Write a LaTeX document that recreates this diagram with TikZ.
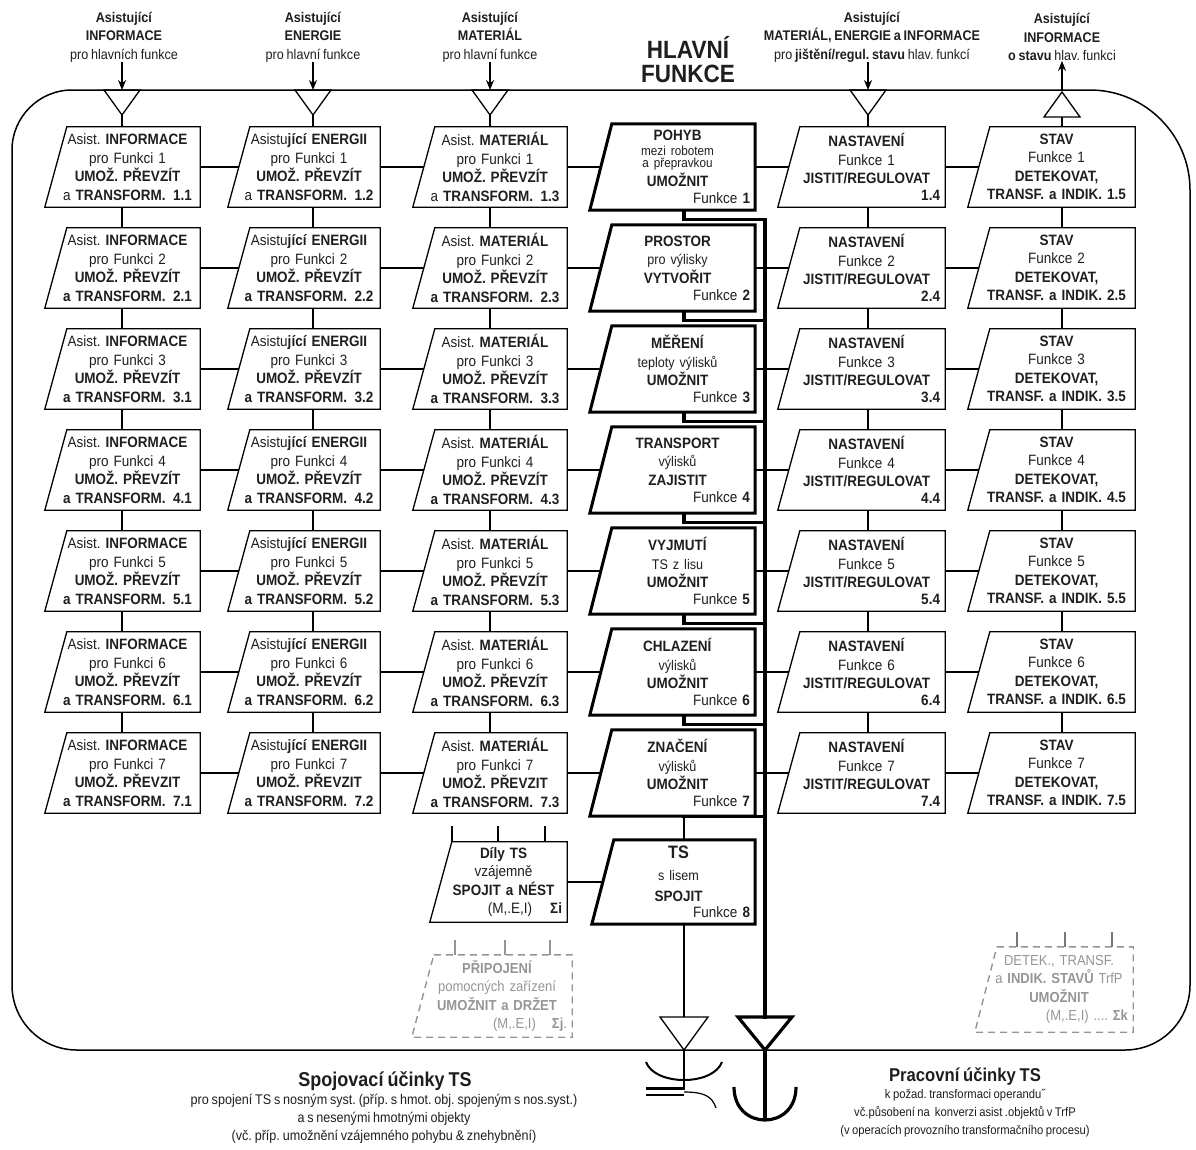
\documentclass[tikz,border=0pt]{standalone}
\usepackage{fontspec}
\setmainfont{Liberation Sans}[FakeStretch=0.9, WordSpace=0.8]
\usetikzlibrary{arrows.meta}
\definecolor{txt}{HTML}{1E1E1E}
\definecolor{gr}{HTML}{959595}
\newcommand\smtxt{\fontsize{14}{14}\selectfont}
% #1 name, #2 bottom-left x, #3 right x, #4 top y, #5 height, #6 box style, #7 text style, #8 text
\newcommand\trapz[8]{%
  \pgfmathsetmacro\tzcx{(#2+#3)/2}%
  \pgfmathsetmacro\tzw{#3-#2}%
  \pgfmathsetmacro\tzcy{#4+#5/2}%
  \pgfmathsetmacro\tztx{\tzcx+5}%
  \pgfmathsetmacro\tztw{\tzw-20}%
  \node[inner sep=0pt, minimum width=\tzw pt, minimum height=#5 pt] (#1) at (\tzcx,\tzcy) {};
  \draw[#6] ([xshift=22pt]#1.north west) -- (#1.north east) -- (#1.south east) -- (#1.south west) -- cycle;
  \node[#7, text width=\tztw pt] (#1t) at (\tztx,\tzcy) {#8};
}
\tikzset{
  frame/.style={line width=1.5pt},
  thinbox/.style={line width=1.3pt, line join=miter},
  mainbox/.style={line width=3pt, line join=miter},
  gbox/.style={line width=1.4pt, gr, dash pattern=on 7pt off 5pt},
  btxt/.style={font=\fontsize{15}{18.5}\selectfont, align=center, inner sep=0pt, text=txt},
  gtxt/.style={font=\fontsize{14.5}{18.5}\selectfont, align=center, inner sep=0pt, text=gr},
  lbl/.style={font=\fontsize{14}{18.5}\selectfont, align=center, inner sep=0pt, text=txt},
  sub/.style={font=\fontsize{12.5}{18}\selectfont, align=center, inner sep=0pt, text=txt},
  conn/.style={line width=1.3pt},
  heavy/.style={line width=3.2pt, line cap=rect, line join=miter},
  arr/.style={line width=1.5pt, -{Stealth[length=10pt,width=8pt]}},
}
\begin{document}
\frenchspacing
\begin{tikzpicture}[x=1pt,y=-1pt]
\useasboundingbox (0,0) rectangle (1196,1149);

% ---- frame
\draw[frame] (12,150) .. controls (12,117) and (39,90) .. (72,90) -- (1090,90)
  .. controls (1145,90) and (1190,135) .. (1190,190) -- (1190,985)
  .. controls (1190,1021) and (1161,1050) .. (1125,1050) -- (77,1050)
  .. controls (41,1050) and (12,1021) .. (12,985) -- cycle;

% ---- helper coordinates
\coordinate (LC) at (684,0);
\coordinate (S) at (765,0);

% ---- top labels
\node[lbl] (labi) at (124,37) {\textbf{Asistující}\\\textbf{INFORMACE}\\pro hlavních funkce};
\node[lbl] (labe) at (313,37) {\textbf{Asistující}\\\textbf{ENERGIE}\\pro hlavní funkce};
\node[lbl] (labm) at (490,37) {\textbf{Asistující}\\\textbf{MATERIÁL}\\pro hlavní funkce};
\node[lbl] (labn) at (872,37) {\textbf{Asistující}\\\textbf{MATERIÁL, ENERGIE a INFORMACE}\\pro \textbf{jištění/regul. stavu} hlav. funkcí};
\node[lbl] (labs) at (1062,37) {\textbf{Asistující}\\\textbf{INFORMACE}\\\textbf{o stavu} hlav. funkci};
\node[font=\fontsize{25}{24}\selectfont\bfseries, align=center, inner sep=0pt, text=txt] (hf) at (688,60) {HLAVNÍ\\FUNKCE};

% ---- side columns
\foreach \k/\pz in {1/PŘEVZÍT,2/PŘEVZÍT,3/PŘEVZÍT,4/PŘEVZÍT,5/PŘEVZÍT,6/PŘEVZÍT,7/PŘEVZIT}{
  \pgfmathsetmacro\rt{127+(\k-1)*101}
  \trapz{i\k}{45}{200}{\rt}{80}{thinbox}{btxt}{Asist. \textbf{INFORMACE}\\pro Funkci \k\\\textbf{UMOŽ. \pz}\\\ifnum\k>1 \textbf{a}\else a\fi\ \textbf{TRANSFORM.}\enspace\textbf{\k.1}}
  \trapz{e\k}{228}{380}{\rt}{80}{thinbox}{btxt}{Asistu\textbf{jící ENERGII}\\pro Funkci \k\\\textbf{UMOŽ. \pz}\\\ifnum\k>1 \textbf{a}\else a\fi\ \textbf{TRANSFORM.}\enspace\textbf{\k.2}}
  \trapz{m\k}{413}{567}{\rt}{80}{thinbox}{btxt}{Asist. \textbf{MATERIÁL}\\pro Funkci \k\\\textbf{UMOŽ. \pz}\\\ifnum\k>1 \textbf{a}\else a\fi\ \textbf{TRANSFORM.}\enspace\textbf{\k.3}}
  \trapz{n\k}{778}{945}{\rt}{80}{thinbox}{btxt}{\textbf{NASTAVENÍ}\\Funkce \k\\\textbf{JISTIT/REGULOVAT}\\[-2pt]\hfill\textbf{\k.4}}
  \trapz{s\k}{968}{1135}{\rt}{80}{thinbox}{btxt}{\textbf{STAV}\\Funkce \k\\\textbf{DETEKOVAT,}\\\textbf{TRANSF. a INDIK. \k.5}}
}

% ---- main functions
\trapz{h1}{590}{755}{124}{86}{mainbox}{btxt}{\textbf{POHYB}\\[-4pt]{\fontsize{13}{12}\selectfont mezi robotem}\\[-6pt]{\fontsize{13}{12}\selectfont a přepravkou}\\[0pt]\textbf{UMOŽNIT}\\[-1.5pt]\hfill Funkce \textbf{1}}
\foreach \k/\ta/\tb/\tc in {2/PROSTOR/pro výlisky/VYTVOŘIT,3/MĚŘENÍ/teploty výlisků/UMOŽNIT,4/TRANSPORT/výlisků/ZAJISTIT,5/VYJMUTÍ/TS z lisu/UMOŽNIT,6/CHLAZENÍ/výlisků/UMOŽNIT,7/ZNAČENÍ/výlisků/UMOŽNIT}{
  \pgfmathsetmacro\rt{124+(\k-1)*101}
  \trapz{h\k}{590}{755}{\rt}{86}{mainbox}{btxt}{\textbf{\ta}\\{\smtxt \tb}\\\textbf{\tc}\\[-1.5pt]\hfill Funkce \textbf{\k}}
}
\trapz{ts}{592}{755}{840}{84}{mainbox}{btxt}{{\fontsize{18}{18}\selectfont\bfseries TS}\\[3pt]{\smtxt s lisem}\\[3pt]\textbf{SPOJIT}\\[-3pt]\hfill Funkce \textbf{8}}
\trapz{dily}{430}{567}{842}{80}{thinbox}{btxt}{\textbf{Díly TS}\\vzájemně\\\textbf{SPOJIT a NÉST}\\\hfill(M,.E,I)\hspace{18pt}\textbf{Σi}}

% ---- gray dashed boxes
\trapz{prip}{412}{572}{955}{82}{gbox}{gtxt}{\textbf{PŘIPOJENÍ}\\pomocných zařízení\\\textbf{UMOŽNIT a DRŽET}\\\hfill(M,.E,I)\hspace{16pt}\textbf{Σj}.}
\trapz{detek}{975}{1133}{947}{85}{gbox}{gtxt}{DETEK., TRANSF.\\a \textbf{INDIK. STAVŮ} TrfP\\\textbf{UMOŽNIT}\\\hfill(M,.E,I) .... \textbf{Σk}}

% ---- top triangles and arrows
\foreach \c/\x in {i/122,e/313,m/490,n/868}{
  \coordinate (tp\c) at (\x,90);
  \coordinate (ap\c) at (\x,115);
  \draw[conn, line join=miter] (tp\c) ++(-18,0) -- ++(36,0) -- (ap\c) -- cycle;
  \draw[conn] (ap\c) -- (\c1.north -| ap\c);
  \draw[arr] (lab\c.south -| tp\c) -- (tp\c);
}
\coordinate (tps) at (1062,90);
\coordinate (aps) at (1062,92);
\coordinate (bss) at (1062,117);
\draw[conn, line join=miter] (bss) ++(-18,0) -- ++(36,0) -- (aps) -- cycle;
\draw[conn] (bss) -- (s1.north -| bss);
\draw[arr] (tps) -- (labs.south -| tps);

% ---- vertical connectors within columns
\foreach \k in {1,...,6}{
  \pgfmathtruncatemacro\nx{\k+1}
  \draw[conn] (i\k.south -| api) -- (i\nx.north -| api);
  \draw[conn] (e\k.south -| ape) -- (e\nx.north -| ape);
  \draw[conn] (m\k.south -| apm) -- (m\nx.north -| apm);
  \draw[conn] (n\k.south -| apn) -- (n\nx.north -| apn);
  \draw[conn] (s\k.south -| bss) -- (s\nx.north -| bss);
}

% ---- horizontal connectors
\foreach \k in {1,...,7}{
  \draw[conn] (i\k.east) -- ([xshift=11pt]e\k.west);
  \draw[conn] (e\k.east) -- ([xshift=11pt]m\k.west);
  \draw[conn] (m\k.east) -- ([xshift=11pt]h\k.west);
  \draw[conn] (h\k.east) -- ([xshift=11pt]n\k.west);
  \draw[conn] (n\k.east) -- ([xshift=11pt]s\k.west);
}
\draw[conn] (dily.east) -- ([xshift=11pt]ts.west);
\draw[conn] (h7.south -| LC) -- (ts.north -| LC);

% ---- ticks above Díly and the dashed boxes
\foreach \x in {452,498,545}{\draw[conn] (dily.north -| \x,0) -- ++(0,-16);}
\foreach \x in {455,505,550}{\draw[conn, gr] (prip.north -| \x,0) -- ++(0,-15);}
\foreach \x in {1017,1065,1112}{\draw[conn, gr!80!black] (detek.north -| \x,0) -- ++(0,-15);}

% ---- spine with L connectors
\foreach \k in {1,...,6}{
  \path (h\k.south) ++(0,9) coordinate (j\k);
  \draw[heavy] (h\k.south -| LC) |- (j\k -| S);
}
\draw[heavy] (h7.south -| LC) -- (h7.south -| S);
\coordinate (bigtop) at (765,1017);
\coordinate (bigtip) at (765,1050);
\draw[heavy] (j1 -| S) -- (bigtop);
\draw[heavy, line cap=butt] (738,1017) -- (792,1017) -- (bigtip) -- cycle;
\draw[heavy, line cap=butt] (bigtip) -- (765,1121);
\draw[heavy, line cap=butt] (734,1087) .. controls (734,1131) and (796,1131) .. (796,1087);

% ---- small output triangle and clamp symbol
\coordinate (smtop) at (684,1017);
\coordinate (smtip) at (684,1050);
\draw[conn] (ts.south -| LC) -- (smtop);
\draw[conn, line join=miter] (660,1017) -- (708,1017) -- (smtip) -- cycle;
\draw[conn] (smtip) -- (684,1090);
\draw[line width=2pt] (646,1062) .. controls (655,1086) and (713,1086) .. (722,1062);
\draw[line width=3pt] (646,1088) -- (684,1088);
\draw[line width=1.2pt] (646,1095) -- (684,1095);
\draw[line width=1.2pt] (684,1092) .. controls (704,1092) and (712,1096) .. (716,1108);

% ---- bottom captions
\node[font=\fontsize{20}{22}\selectfont\bfseries, inner sep=0pt, text=txt] (spoj) at (385,1081) {Spojovací účinky TS};
\node[sub, font=\fontsize{14}{18}\selectfont] (spojsub) at (384,1119) {pro spojení TS s nosným syst. (příp. s hmot. obj. spojeným s nos.syst.)\\a s nesenými hmotnými objekty\\(vč. příp. umožnění vzájemného pohybu \& znehybnění)};
\node[font=\fontsize{18.5}{22}\selectfont\bfseries, inner sep=0pt, text=txt] (prac) at (965,1076) {Pracovní účinky TS};
\node[sub] (pracsub) at (965,1113) {k požad. transformaci operandu˝\\vč.působení na\ \ konverzi asist .objektů v TrfP\\(v operacích provozního transformačního procesu)};
\end{tikzpicture}
\end{document}
